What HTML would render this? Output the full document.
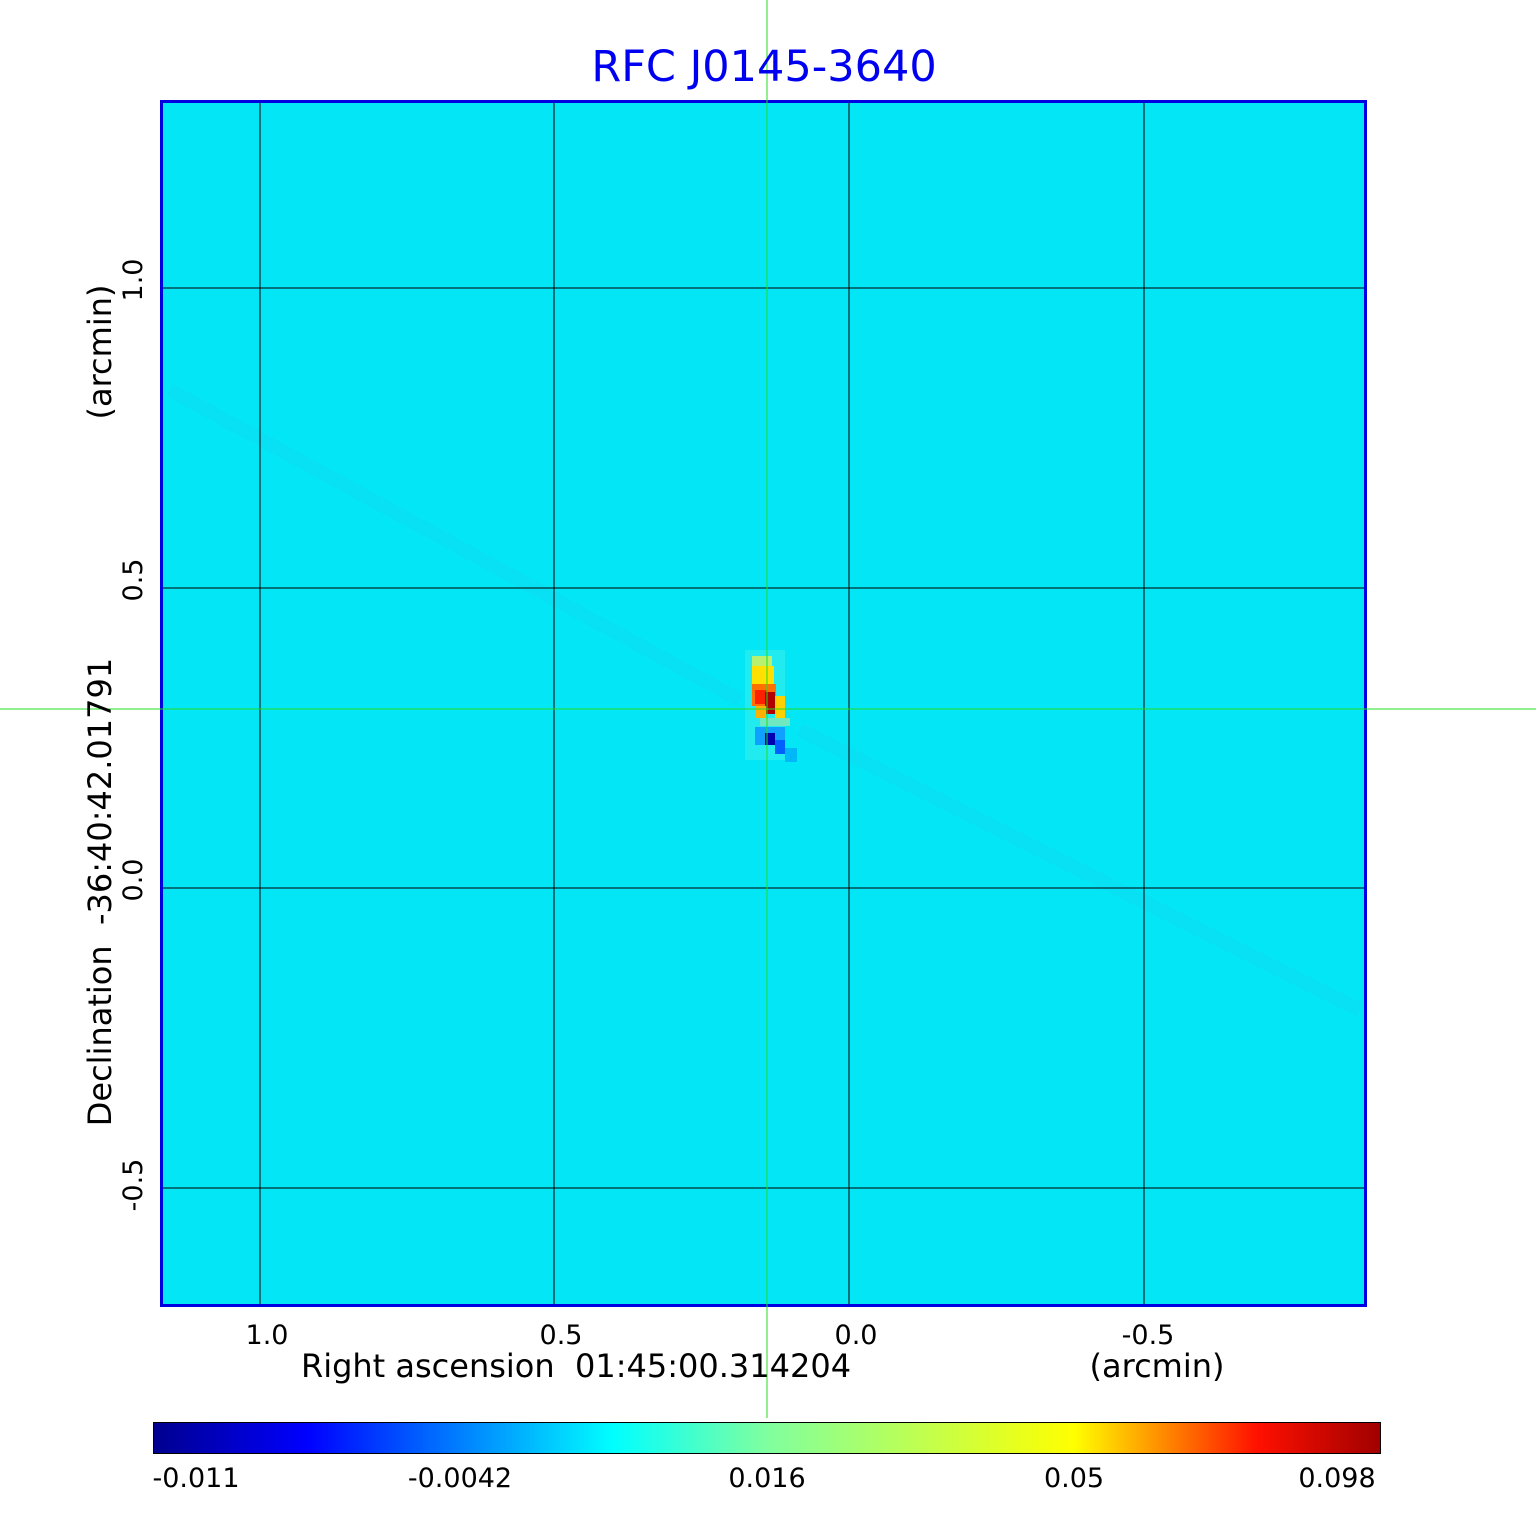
<!DOCTYPE html>
<html><head><style>body{margin:0;background:#fff}</style></head><body>
<svg width="1536" height="1511" xmlns="http://www.w3.org/2000/svg" font-family="DejaVu Sans, Liberation Sans, sans-serif">
<defs>
<linearGradient id="jet" x1="0" x2="1" y1="0" y2="0">
<stop offset="0" stop-color="#00008f"/>
<stop offset="0.125" stop-color="#0000ff"/>
<stop offset="0.375" stop-color="#00ffff"/>
<stop offset="0.5" stop-color="#80ff9f"/>
<stop offset="0.75" stop-color="#ffff00"/>
<stop offset="0.9" stop-color="#ff1000"/>
<stop offset="1" stop-color="#a00000"/>
</linearGradient>
</defs>
<rect x="160" y="100" width="1207" height="1207" fill="#03e6f6"/>
<line x1="170" y1="390" x2="740" y2="700" stroke="#10d8f0" stroke-width="14" opacity="0.35"/>
<line x1="800" y1="730" x2="1360" y2="1010" stroke="#10d8f0" stroke-width="14" opacity="0.4"/>
<!-- source -->
<rect x="745" y="650" width="40" height="110" fill="#40f0e8" opacity="0.5"/>
<rect x="752" y="656" width="20" height="12" fill="#b8f070"/>
<rect x="752" y="666" width="22" height="18" fill="#ffe000"/>
<rect x="752" y="684" width="24" height="22" fill="#ff7000"/>
<rect x="755" y="690" width="12" height="14" fill="#ff2000"/>
<rect x="765" y="692" width="10" height="22" fill="#b00000"/>
<rect x="775" y="696" width="10" height="24" fill="#ffd000"/>
<rect x="756" y="706" width="10" height="12" fill="#ffb000"/>
<rect x="760" y="718" width="30" height="8" fill="#70e8c0"/>
<rect x="755" y="727" width="30" height="18" fill="#10a0ff"/>
<rect x="765" y="733" width="10" height="12" fill="#0000b0"/>
<rect x="775" y="740" width="10" height="14" fill="#0060ff"/>
<rect x="785" y="748" width="12" height="14" fill="#00b8f8"/>
<!-- grid -->
<g stroke="#000" stroke-width="1">
<line x1="260" y1="100" x2="260" y2="1307"/><line x1="554" y1="100" x2="554" y2="1307"/>
<line x1="849" y1="100" x2="849" y2="1307"/><line x1="1144" y1="100" x2="1144" y2="1307"/>
<line x1="160" y1="288" x2="1367" y2="288"/><line x1="160" y1="588" x2="1367" y2="588"/>
<line x1="160" y1="888" x2="1367" y2="888"/><line x1="160" y1="1188" x2="1367" y2="1188"/>
</g>
<rect x="161.5" y="101.5" width="1204" height="1204" fill="none" stroke="#0000e0" stroke-width="3"/>
<line x1="767" y1="0" x2="767" y2="1418" stroke="#20e020" stroke-width="1"/>
<line x1="0" y1="709" x2="1536" y2="709" stroke="#20e020" stroke-width="1"/>
<text x="764" y="81" font-size="43" fill="#0000f0" text-anchor="middle">RFC J0145-3640</text>
<g font-size="27" fill="#000" text-anchor="middle">
<text x="267" y="1344">1.0</text><text x="561" y="1344">0.5</text>
<text x="856" y="1344">0.0</text><text x="1148" y="1344">-0.5</text>
</g>
<text x="576" y="1377" font-size="32" text-anchor="middle">Right ascension&#160;&#160;01:45:00.314204</text>
<text x="1157" y="1377" font-size="32" text-anchor="middle">(arcmin)</text>
<g font-size="27" text-anchor="middle">
<text transform="translate(142,280) rotate(-90)">1.0</text>
<text transform="translate(142,580) rotate(-90)">0.5</text>
<text transform="translate(142,880) rotate(-90)">0.0</text>
<text transform="translate(142,1185) rotate(-90)">-0.5</text>
</g>
<text transform="translate(111,352) rotate(-90)" font-size="32" text-anchor="middle">(arcmin)</text>
<text transform="translate(111,892) rotate(-90)" font-size="32" text-anchor="middle">Declination&#160;&#160;-36:40:42.01791</text>
<rect x="153.5" y="1422.5" width="1227" height="31" fill="url(#jet)" stroke="#000" stroke-width="1"/>
<g font-size="27" text-anchor="middle">
<text x="196" y="1487">-0.011</text><text x="460" y="1487">-0.0042</text>
<text x="767" y="1487">0.016</text><text x="1074" y="1487">0.05</text><text x="1337" y="1487">0.098</text>
</g>
</svg>
</body></html>
